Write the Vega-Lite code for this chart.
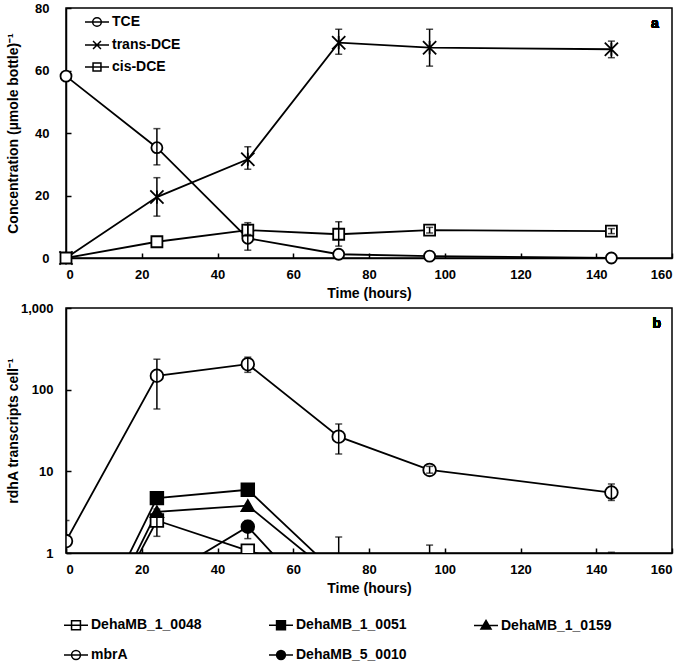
{
  "$schema": "https://vega.github.io/schema/vega-lite/v6.json",
  "padding": {"left": 5, "top": 1, "right": 5, "bottom": 0},
  "background": "white",
  "spacing": 0,
  "config": {
    "font": "Liberation Sans",
    "view": {"stroke": "black", "strokeWidth": 1.5},
    "axis": {
      "grid": false, "domainColor": "black", "domainWidth": 1.5,
      "tickColor": "black", "tickWidth": 1.5, "tickSize": -5, "labelOverlap": false,
      "labelFont": "Liberation Sans", "labelFontWeight": "bold", "labelFontSize": 13, "labelColor": "black",
      "titleFont": "Liberation Sans", "titleFontWeight": "bold", "titleFontSize": 14, "titleColor": "black"
    },
    "legend": {"labelFont": "Liberation Sans", "labelColor": "black", "padding": 0}
  },
  "datasets": {
    "top": [
      {"series": "TCE", "time": 0, "value": 58.2},
      {"series": "TCE", "time": 24, "value": 35.3, "lo": 29.8, "hi": 41.4},
      {"series": "TCE", "time": 48, "value": 6.3, "lo": 2.5, "hi": 11.3},
      {"series": "TCE", "time": 72, "value": 1.2},
      {"series": "TCE", "time": 96, "value": 0.6},
      {"series": "TCE", "time": 144, "value": 0},
      {"series": "trans-DCE", "time": 0, "value": 0},
      {"series": "trans-DCE", "time": 24, "value": 19.5, "lo": 13.4, "hi": 25.7},
      {"series": "trans-DCE", "time": 48, "value": 31.6, "lo": 28.4, "hi": 35.6},
      {"series": "trans-DCE", "time": 72, "value": 68.9, "lo": 65.2, "hi": 73.2},
      {"series": "trans-DCE", "time": 96, "value": 67.3, "lo": 61.4, "hi": 73.2},
      {"series": "trans-DCE", "time": 144, "value": 66.8, "lo": 64.1, "hi": 69.4},
      {"series": "cis-DCE", "time": 0, "value": 0},
      {"series": "cis-DCE", "time": 24, "value": 5.2},
      {"series": "cis-DCE", "time": 48, "value": 8.9, "lo": 7.5, "hi": 10.6},
      {"series": "cis-DCE", "time": 72, "value": 7.6, "lo": 3.8, "hi": 11.6},
      {"series": "cis-DCE", "time": 96, "value": 8.9, "lo": 8.0, "hi": 9.8},
      {"series": "cis-DCE", "time": 144, "value": 8.6, "lo": 7.8, "hi": 9.4}
    ],
    "bottom": [
      {"series": "mbrA", "time": 0, "value": 1.4, "lo": 0.6, "hi": 2.5},
      {"series": "mbrA", "time": 24, "value": 148, "lo": 58, "hi": 236},
      {"series": "mbrA", "time": 48, "value": 205, "lo": 163, "hi": 250},
      {"series": "mbrA", "time": 72, "value": 26.6, "lo": 16.3, "hi": 38},
      {"series": "mbrA", "time": 96, "value": 10.4, "lo": 9.5, "hi": 11.5},
      {"series": "mbrA", "time": 144, "value": 5.5, "lo": 4.4, "hi": 7},
      {"series": "DehaMB_1_0048", "time": 0, "value": 0.02},
      {"series": "DehaMB_1_0048", "time": 24, "value": 2.5, "lo": 1.6, "hi": 3.45},
      {"series": "DehaMB_1_0048", "time": 48, "value": 1.07},
      {"series": "DehaMB_1_0048", "time": 72, "value": 0.5, "lo": 0.2, "hi": 1.57},
      {"series": "DehaMB_1_0048", "time": 96, "value": 0.3, "lo": 0.1, "hi": 1.25},
      {"series": "DehaMB_1_0048", "time": 144, "value": 0.2, "lo": 0.1, "hi": 1.02},
      {"series": "DehaMB_1_0051", "time": 0, "value": 0.026},
      {"series": "DehaMB_1_0051", "time": 24, "value": 4.7},
      {"series": "DehaMB_1_0051", "time": 48, "value": 5.95},
      {"series": "DehaMB_1_0051", "time": 72, "value": 0.53},
      {"series": "DehaMB_1_0159", "time": 0, "value": 0.018},
      {"series": "DehaMB_1_0159", "time": 24, "value": 3.2},
      {"series": "DehaMB_1_0159", "time": 48, "value": 3.8},
      {"series": "DehaMB_1_0159", "time": 72, "value": 0.47},
      {"series": "DehaMB_5_0010", "time": 0, "value": 0.02},
      {"series": "DehaMB_5_0010", "time": 24, "value": 0.45},
      {"series": "DehaMB_5_0010", "time": 48, "value": 2.1, "lo": 1.5, "hi": 2.5},
      {"series": "DehaMB_5_0010", "time": 72, "value": 0.13}
    ]
  },
  "resolve": {
    "scale": {"shape": "independent", "fill": "independent", "x": "independent", "y": "independent"},
    "legend": {"shape": "independent", "fill": "independent"}
  },
  "vconcat": [
    {
      "width": 606, "height": 250,
      "data": {"name": "top"},
      "resolve": {"scale": {"shape": "independent"}, "legend": {"shape": "independent"}},
      "encoding": {
        "x": {"field": "time", "type": "quantitative", "scale": {"domain": [0, 160]},
              "axis": {"values": [0, 20, 40, 60, 80, 100, 120, 140, 160], "title": "Time (hours)", "labelPadding": 15, "titlePadding": 5}}
      },
      "layer": [
        {
          "mark": {"type": "line", "color": "black", "strokeWidth": 1.8},
          "encoding": {
            "y": {"field": "value", "type": "quantitative", "scale": {"domain": [0, 80]},
                  "axis": {"values": [0, 10, 20, 30, 40, 50, 60, 70, 80], "title": "Concentration (µmole bottle)⁻¹", "labelPadding": 22, "titlePadding": 14}},
            "detail": {"field": "series"}
          }
        },
        {
          "mark": {"type": "point", "filled": true, "stroke": "black", "strokeWidth": 1.8, "size": 121, "opacity": 1},
          "encoding": {
            "y": {"field": "value", "type": "quantitative",
                  "axis": {"values": [0, 10, 20, 30, 40, 50, 60, 70, 80], "title": "Concentration (µmole bottle)⁻¹", "labelPadding": 22, "titlePadding": 14}},
            "shape": {"field": "series", "type": "nominal",
              "scale": {"domain": ["TCE", "trans-DCE", "cis-DCE"], "range": ["circle", "M-1.2,-1.2L1.2,1.2M-1.2,1.2L1.2,-1.2M0,-1.2L0,1.2", "square"]},
              "legend": null},
            "fill": {"field": "series", "type": "nominal",
              "scale": {"domain": ["TCE", "trans-DCE", "cis-DCE"], "range": ["white", "white", "white"]}, "legend": null}
          }
        },
        {
          "transform": [{"filter": "false"}],
          "mark": {"type": "point", "filled": false, "stroke": "black", "strokeWidth": 1.5, "opacity": 1},
          "encoding": {
            "shape": {"field": "series", "type": "nominal",
              "scale": {"domain": ["TCE", "trans-DCE", "cis-DCE"],
                        "range": ["M-1,0L1,0M0.36,0A0.36,0.36,0,1,1,-0.36,0A0.36,0.36,0,1,1,0.36,0Z", "M-1,0L1,0M-0.33,-0.33L0.33,0.33M-0.33,0.33L0.33,-0.33", "M-1,0L1,0M-0.33,-0.33L0.33,-0.33L0.33,0.33L-0.33,0.33Z"]},
              "legend": {"title": null, "orient": "none", "legendX": 18, "legendY": 1, "symbolSize": 576, "labelFontSize": 14, "labelFontWeight": "bold", "labelOffset": 2, "rowPadding": 2}}
          }
        },
        {
          "transform": [{"filter": "isValid(datum.hi)"}],
          "mark": {"type": "rule", "color": "black", "strokeWidth": 1.5},
          "encoding": {"y": {"field": "lo", "type": "quantitative",
                  "axis": {"values": [0, 10, 20, 30, 40, 50, 60, 70, 80], "title": "Concentration (µmole bottle)⁻¹", "labelPadding": 22, "titlePadding": 14}}, "y2": {"field": "hi"}}
        },
        {
          "transform": [{"filter": "isValid(datum.hi)"}],
          "mark": {"type": "tick", "orient": "horizontal", "color": "black", "size": 7, "thickness": 1.5},
          "encoding": {"y": {"field": "lo", "type": "quantitative",
                  "axis": {"values": [0, 10, 20, 30, 40, 50, 60, 70, 80], "title": "Concentration (µmole bottle)⁻¹", "labelPadding": 22, "titlePadding": 14}}}
        },
        {
          "transform": [{"filter": "isValid(datum.hi)"}],
          "mark": {"type": "tick", "orient": "horizontal", "color": "black", "size": 7, "thickness": 1.5},
          "encoding": {"y": {"field": "hi", "type": "quantitative",
                  "axis": {"values": [0, 10, 20, 30, 40, 50, 60, 70, 80], "title": "Concentration (µmole bottle)⁻¹", "labelPadding": 22, "titlePadding": 14}}}
        },
        {
          "mark": {"type": "text", "font": "Liberation Sans", "fontWeight": "bold", "fontSize": 14, "color": "black"},
          "encoding": {"x": {"datum": 155.5}, "y": {"datum": 75}, "text": {"value": "a"}}
        }
      ]
    },
    {
      "width": 606, "height": 245,
      "data": {"name": "bottom"},
      "resolve": {"scale": {"shape": "independent"}, "legend": {"shape": "independent"}},
      "encoding": {
        "x": {"field": "time", "type": "quantitative", "scale": {"domain": [0, 160]},
              "axis": {"values": [0, 20, 40, 60, 80, 100, 120, 140, 160], "title": "Time (hours)", "labelPadding": 15, "titlePadding": 5}}
      },
      "layer": [
        {
          "mark": {"type": "line", "color": "black", "strokeWidth": 1.8, "clip": true},
          "encoding": {
            "y": {"field": "value", "type": "quantitative", "scale": {"type": "log", "domain": [1, 1000]},
                  "axis": {"values": [1, 10, 100, 1000], "format": ",", "title": "rdhA transcripts cell⁻¹", "labelPadding": 18, "titlePadding": 0}},
            "detail": {"field": "series"}
          }
        },
        {
          "mark": {"type": "point", "filled": true, "stroke": "black", "strokeWidth": 1.8, "size": 160, "opacity": 1, "clip": true},
          "encoding": {
            "y": {"field": "value", "type": "quantitative",
                  "axis": {"values": [1, 10, 100, 1000], "format": ",", "title": "rdhA transcripts cell⁻¹", "labelPadding": 18, "titlePadding": 0}},
            "shape": {"field": "series", "type": "nominal",
              "scale": {"domain": ["DehaMB_1_0048", "DehaMB_1_0051", "DehaMB_1_0159", "mbrA", "DehaMB_5_0010"], "range": ["square", "square", "triangle-up", "circle", "circle"]},
              "legend": null},
            "fill": {"field": "series", "type": "nominal",
              "scale": {"domain": ["DehaMB_1_0048", "DehaMB_1_0051", "DehaMB_1_0159", "mbrA", "DehaMB_5_0010"], "range": ["white", "black", "black", "white", "black"]}, "legend": null}
          }
        },
        {
          "transform": [{"filter": "false"}],
          "mark": {"type": "point", "filled": false, "stroke": "black", "strokeWidth": 1.5, "opacity": 1},
          "encoding": {
            "shape": {"field": "series", "type": "nominal",
              "scale": {"domain": ["DehaMB_1_0048", "DehaMB_1_0051", "DehaMB_1_0159", "mbrA", "DehaMB_5_0010"],
                        "range": [
                          "M-1,0L1,0M-0.37,-0.37L0.37,-0.37L0.37,0.37L-0.37,0.37Z",
                          "M-1,0L1,0M-0.37,-0.37L0.37,-0.37L0.37,0.37L-0.37,0.37ZM-0.37,-0.28L0.37,-0.28M-0.37,-0.19L0.37,-0.19M-0.37,-0.1L0.37,-0.1M-0.37,0.1L0.37,0.1M-0.37,0.19L0.37,0.19M-0.37,0.28L0.37,0.28",
                          "M-1,0L1,0M0,-0.42L0.42,0.3L-0.42,0.3ZM-0.06,-0.32L0.06,-0.32M-0.1,-0.24L0.1,-0.24M-0.15,-0.16L0.15,-0.16M-0.2,-0.08L0.2,-0.08M-0.29,0.08L0.29,0.08M-0.34,0.16L0.34,0.16M-0.38,0.23L0.38,0.23",
                          "M-1,0L1,0M0.37,0A0.37,0.37,0,1,1,-0.37,0A0.37,0.37,0,1,1,0.37,0Z",
                          "M-1,0L1,0M0.37,0A0.37,0.37,0,1,1,-0.37,0A0.37,0.37,0,1,1,0.37,0ZM0.28,0A0.28,0.28,0,1,1,-0.28,0A0.28,0.28,0,1,1,0.28,0ZM0.19,0A0.19,0.19,0,1,1,-0.19,0A0.19,0.19,0,1,1,0.19,0ZM0.1,0A0.1,0.1,0,1,1,-0.1,0A0.1,0.1,0,1,1,0.1,0ZM0,-0.05L0,0.05"
                        ]},
              "legend": {"title": null, "orient": "none", "legendX": -3, "legendY": 304, "columns": 3, "direction": "horizontal", "symbolSize": 576, "columnPadding": 64, "rowPadding": 9, "labelFontSize": 14, "labelFontWeight": "bold", "labelOffset": 2}}
          }
        },
        {
          "transform": [{"filter": "isValid(datum.hi)"}],
          "mark": {"type": "rule", "color": "black", "strokeWidth": 1.5, "clip": true},
          "encoding": {"y": {"field": "lo", "type": "quantitative",
                  "axis": {"values": [1, 10, 100, 1000], "format": ",", "title": "rdhA transcripts cell⁻¹", "labelPadding": 18, "titlePadding": 0}}, "y2": {"field": "hi"}}
        },
        {
          "transform": [{"filter": "isValid(datum.hi)"}],
          "mark": {"type": "tick", "orient": "horizontal", "color": "black", "size": 7, "thickness": 1.5, "clip": true},
          "encoding": {"y": {"field": "lo", "type": "quantitative",
                  "axis": {"values": [1, 10, 100, 1000], "format": ",", "title": "rdhA transcripts cell⁻¹", "labelPadding": 18, "titlePadding": 0}}}
        },
        {
          "transform": [{"filter": "isValid(datum.hi)"}],
          "mark": {"type": "tick", "orient": "horizontal", "color": "black", "size": 7, "thickness": 1.5, "clip": true},
          "encoding": {"y": {"field": "hi", "type": "quantitative",
                  "axis": {"values": [1, 10, 100, 1000], "format": ",", "title": "rdhA transcripts cell⁻¹", "labelPadding": 18, "titlePadding": 0}}}
        },
        {
          "mark": {"type": "text", "font": "Liberation Sans", "fontWeight": "bold", "fontSize": 14, "color": "black"},
          "encoding": {"x": {"datum": 156}, "y": {"datum": 630}, "text": {"value": "b"}}
        }
      ]
    }
  ]
}
